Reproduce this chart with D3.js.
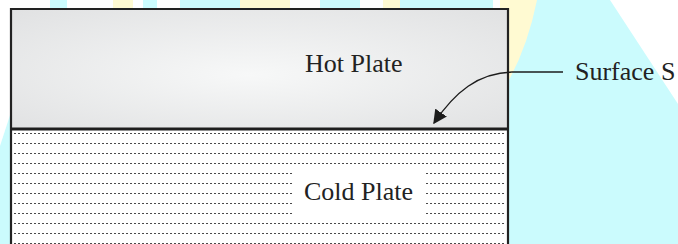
<!DOCTYPE html>
<html>
<head>
<meta charset="utf-8">
<script src="https://cdn.jsdelivr.net/npm/d3@7"></script>
<style>
  html,body{margin:0;padding:0;background:#fff;}
  svg{display:block;}
  text{font-family:"Liberation Serif","Times New Roman",serif;fill:#222;}
</style>
</head>
<body>
<div id="stage"></div>
<script>

// labels of the figure
var plateNames=["Hot Plate","Cold Plate"];
var surfaceName="Surface S";

// hatch rows of the cold plate (row index), and which of them are cut by the label
var hatchRows=[0,1,2,3,4,5,6,7,8,9,10,11];
var cutRows=[4,5,6,7,8];

// watermark stripes along the top edge [from, to, colour key]
var stripes=[[50,67,"c"],[113,133,"y"],[143,157,"c"],[180,240,"c"],[240,290,"y"],[320,360,"c"],[383,400,"y"],[400,493,"c"]];

var W=678,H=244;
var cyan="#cbfbfd", yellow="#fffad2";

var svg=d3.select("#stage")
  .append("svg")
  .attr("width",W)
  .attr("height",H)

var defs=svg.append("defs");

var grad=defs.append("radialGradient")
  .attr("id","hot")
  .attr("cx","0.5").attr("cy","0.5").attr("r","0.75")
  .attr("fx","0.48").attr("fy","0.55")
grad.append("stop").attr("offset","0%").attr("stop-color","#f7f8f8")
grad.append("stop").attr("offset","100%").attr("stop-color","#dfe0e1")

defs.append("marker")
  .attr("id","head")
  .attr("viewBox","0 0 10 10")
  .attr("refX",9).attr("refY",5)
  .attr("markerWidth",14).attr("markerHeight",14)
  .attr("markerUnits","userSpaceOnUse")
  .attr("orient","auto")
  .append("path")
  .attr("d","M0,0 L10,5 L0,10 z")
  .attr("fill","#1c1c1c")

// layout scales
var x=d3.scaleLinear().domain([0,1]).range([11,508]);
var y=d3.scaleLinear().domain([0,1]).range([9,129]);
var rowY=d3.scaleLinear().domain([0,11]).range([134,244]);

// ---- watermark background
var bg=svg.append("g");
bg.selectAll("rect.stripe")
  .data(stripes)
  .enter().append("rect")
  .attr("class","stripe")
  .attr("x",function(d){return d[0]})
  .attr("y",0)
  .attr("width",function(d){return d[1]-d[0]})
  .attr("height",20)
  .attr("fill",function(d){return d[2]=="c"?cyan:yellow})

bg.append("path")
  .attr("d","M500,0 L610,0 L678,104 L678,244 L500,244 Z")
  .attr("fill",cyan)
bg.append("path")
  .attr("d","M500,0 L537,0 Q528,45 509,80 L500,80 Z")
  .attr("fill",yellow)
bg.append("path")
  .attr("d","M0,146 L13,106 L13,244 L0,244 Z")
  .attr("fill",cyan)

// ---- plates
svg.append("rect")
  .attr("x",x(0)).attr("y",y(0))
  .attr("width",x(1)-x(0)).attr("height",y(1)-y(0))
  .attr("fill","url(#hot)")

svg.append("rect")
  .attr("x",x(0)).attr("y",y(1))
  .attr("width",x(1)-x(0)).attr("height",H-y(1)+10)
  .attr("fill","#fff")

// dotted hatching
svg.append("g").selectAll("line")
  .data(hatchRows)
  .enter().append("line")
  .attr("x1",x(0)+3)
  .attr("x2",x(1)-2)
  .attr("y1",function(d){return Math.round(rowY(d))-0.5})
  .attr("y2",function(d){return Math.round(rowY(d))-0.5})
  .attr("stroke","#4a4a4a")
  .attr("stroke-width",1)
  .attr("stroke-dasharray","2,2")

// white gap behind the cold plate label
svg.append("rect")
  .attr("x",293).attr("y",rowY(cutRows[0])-5)
  .attr("width",133).attr("height",rowY(cutRows[cutRows.length-1])-rowY(cutRows[0])+9)
  .attr("fill","#fff")

// outline
svg.append("path")
  .attr("d","M"+x(0)+","+(H+5)+" L"+x(0)+","+y(0)+" L"+x(1)+","+y(0)+" L"+x(1)+","+(H+5))
  .attr("fill","none")
  .attr("stroke","#222")
  .attr("stroke-width",2.2)
svg.append("line")
  .attr("x1",x(0)).attr("x2",x(1))
  .attr("y1",y(1)).attr("y2",y(1))
  .attr("stroke","#1e1e1e")
  .attr("stroke-width",3)

// labels
svg.selectAll("text.plate")
  .data(plateNames)
  .enter().append("text")
  .attr("class","plate")
  .attr("x",function(d,i){return i==0?305:304})
  .attr("y",function(d,i){return i==0?72:200})
  .style("font-size","26px")
  .text(function(d){return d})

svg.append("text")
  .attr("x",575)
  .attr("y",80)
  .style("font-size","26px")
  .text(surfaceName)

// pointer to the surface
svg.append("path")
  .attr("d","M563,72 L512,72 C478,73 455,92 434,123")
  .attr("fill","none")
  .attr("stroke","#1c1c1c")
  .attr("stroke-width",1.3)
  .attr("marker-end","url(#head)")

</script>
</body>
</html>
